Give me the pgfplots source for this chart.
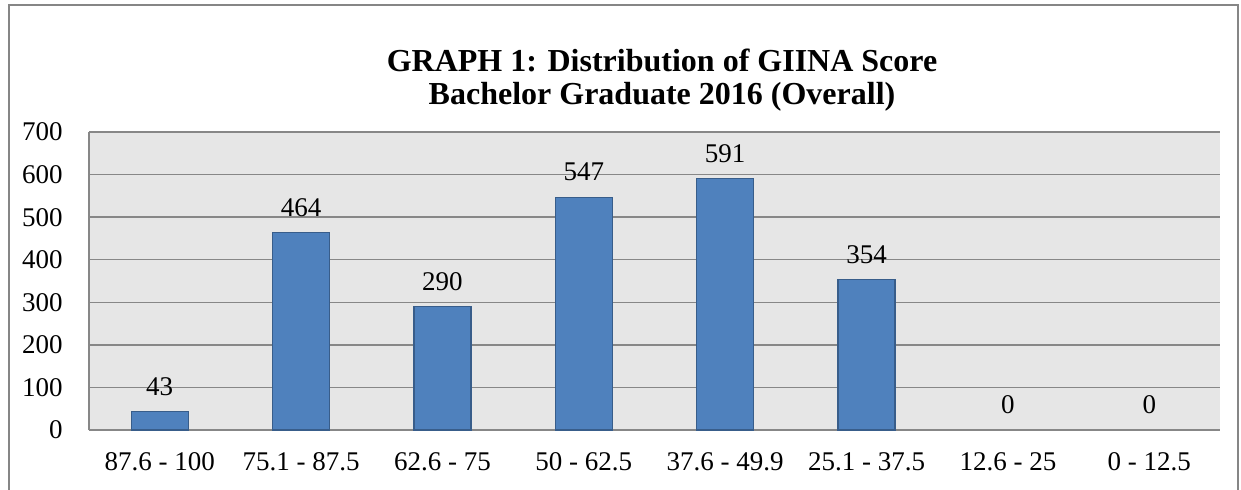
\documentclass[border=0pt]{standalone}
\usepackage{pgfplots}
\pgfplotsset{compat=1.18}
\usepackage{fontspec}
\setmainfont{Liberation Serif}
\definecolor{barblue}{HTML}{4F81BD}
\definecolor{barborder}{HTML}{385D8A}
\definecolor{plotbg}{HTML}{E6E6E6}
\definecolor{gridgray}{HTML}{878787}
\definecolor{framegray}{HTML}{868686}
\begin{document}
\begin{tikzpicture}
\draw[framegray, line width=1pt] (4.5pt,-2pt) -- (4.5pt,242pt) -- (619pt,242pt) -- (619pt,-2pt);
\begin{axis}[
  at={(44.5pt,29.5pt)}, anchor=south west,
  width=565.5pt, height=149pt, scale only axis,
  xmin=-0.5, xmax=7.5, ymin=0, ymax=700,
  ytick={0,100,...,700},
  xtick={0,...,7},
  xticklabels={87.6 - 100, 75.1 - 87.5, 62.6 - 75, 50 - 62.5, 37.6 - 49.9, 25.1 - 37.5, 12.6 - 25, 0 - 12.5},
  major tick length=0pt,
  axis background/.style={fill=plotbg},
  ymajorgrids, grid style={gridgray, line width=0.75pt},
  axis x line*=bottom, axis y line*=left,
  axis line style={gridgray, line width=0.75pt, -},
  /pgf/number format/assume math mode=true,
  ticklabel style={font=\fontsize{13.5}{16}\selectfont},
  xticklabel style={anchor=center, yshift=-16pt, inner sep=0pt},
  yticklabel style={anchor=east, inner sep=0pt, xshift=-13pt},
  ybar, bar width=28.5pt, bar shift=0pt,
  nodes near coords,
  every node near coord/.append style={font=\fontsize{13.5}{16}\selectfont, anchor=center, inner sep=0pt, yshift=12.5pt},
  clip=false,
]
\addplot[fill=barblue, draw=barborder, line width=0.6pt] coordinates {
(0,43) (1,464) (2,290) (3,547) (4,591) (5,354)};
\addplot[fill=none, draw=none] coordinates {(6,0) (7,0)};
\end{axis}
\node[font=\fontsize{16}{18}\selectfont\bfseries] at (331pt,214.5pt) {GRAPH 1: Distribution of GIINA Score};
\node[font=\fontsize{16}{18}\selectfont\bfseries] at (331pt,196pt) {Bachelor Graduate 2016 (Overall)};
\pgfresetboundingbox
\path (0,0) rectangle (620.5pt,244.5pt);
\end{tikzpicture}
\end{document}
